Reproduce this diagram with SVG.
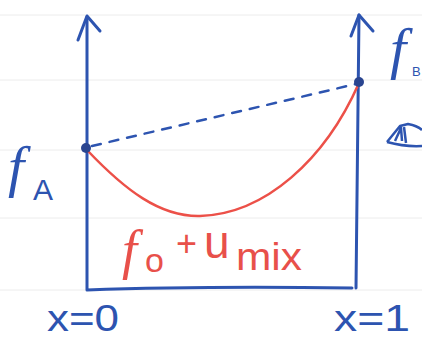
<svg xmlns="http://www.w3.org/2000/svg" width="422" height="349" viewBox="0 0 422 349">
<style>
.rule{stroke:#ececec;stroke-width:1;fill:none}
.ax{stroke:#2d54b0;stroke-width:3;fill:none;stroke-linecap:round;stroke-linejoin:round}
.dash{stroke:#2d54b0;stroke-width:2.5;fill:none;stroke-dasharray:9 9;stroke-linecap:round}
.curve{stroke:#ec5048;stroke-width:2.5;fill:none}
.bl{fill:#2d54b0;font-family:'Liberation Sans',sans-serif}
.rd{fill:#e8504a;font-family:'Liberation Sans',sans-serif}
.ff{font-family:'Liberation Serif',serif;font-style:italic}
</style>
<rect width="422" height="349" fill="#ffffff"/>
<g id="ruling">
<line class="rule" x1="0" y1="15" x2="422" y2="15"/>
<line class="rule" x1="0" y1="80" x2="422" y2="80"/>
<line class="rule" x1="0" y1="150" x2="422" y2="150"/>
<line class="rule" x1="0" y1="218" x2="422" y2="218"/>
<line class="rule" x1="0" y1="290" x2="422" y2="290"/>
</g>
<g id="axes">
<path class="ax" d="M87,17 L87,290 Q200,286 352,288"/>
<path class="ax" d="M78,40 L87,16 L100,31"/>
<path class="ax" d="M359,15 L356,288"/>
<path class="ax" d="M351,36 L359,15 L373,31"/>
</g>
<g id="connectors">
<line class="dash" x1="92" y1="146" x2="356" y2="84"/>
<path class="curve" d="M87,150 C125,190 160,217 200,216 C265,214 325,160 359,83"/>
</g>
<g id="pointA"><circle cx="86" cy="148" r="5" fill="#2a4590"/></g>
<g id="pointB"><circle cx="359" cy="82" r="5" fill="#2a4590"/></g>
<g id="labels">
<text class="bl" x="8" y="186"><tspan class="ff" font-size="58">f</tspan><tspan font-size="30" x="33" dy="14">A</tspan></text>
<text class="bl" x="390" y="68"><tspan class="ff" font-size="58">f</tspan><tspan font-size="13" x="412" dy="8">B</tspan></text>
<text class="bl" x="47" y="331" font-size="36" textLength="72" lengthAdjust="spacingAndGlyphs">x=0</text>
<text class="bl" x="334" y="331" font-size="36" textLength="76" lengthAdjust="spacingAndGlyphs">x=1</text>
<text class="rd" y="268"><tspan class="ff" font-size="54" x="122">f</tspan><tspan font-size="34" x="145" y="272">o</tspan><tspan font-size="36" x="176" y="256">+</tspan><tspan font-size="46" x="204" y="258">u</tspan><tspan font-size="38" x="236" y="270" textLength="66" lengthAdjust="spacingAndGlyphs">mix</tspan></text>
</g>
<g id="eye">
<path d="M387,142 L400,126 L408,124 Q418,126 422,130 M387,142 Q405,147 422,146 M395,141 L401,128 L402,141 M404,127 L406,143" stroke="#2d54b0" stroke-width="2.5" fill="none" stroke-linejoin="round"/>
</g>
</svg>
